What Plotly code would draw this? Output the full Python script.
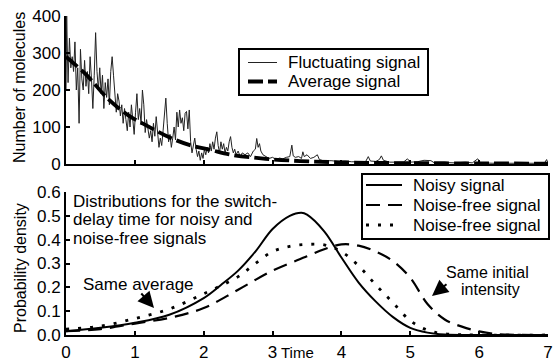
import plotly.graph_objects as go

# ---------------- data ----------------
# Top panel: fluctuating molecule count
fluct_t = [0.00,0.01,0.02,0.03,0.05,0.07,0.09,0.11,0.13,0.15,0.17,0.19,0.21,0.23,0.25,0.27,0.29,0.31,0.33,0.35,
           0.37,0.39,0.41,0.43,0.45,0.47,0.49,0.51,0.53,0.55,0.57,0.59,0.61,0.63,0.65,0.67,0.69,0.71,0.73,0.75,
           0.77,0.79,0.81,0.83,0.85,0.87,0.89,0.91,0.93,0.95,0.97,0.99,1.01,1.03,1.05,1.07,1.09,1.11,1.13,1.15,
           1.17,1.19,1.21,1.23,1.25,1.27,1.29,1.31,1.33,1.35,1.37,1.39,1.41,1.43,1.45,1.47,1.49,1.51,1.53,1.55,
           1.57,1.59,1.61,1.63,1.65,1.67,1.69,1.71,1.73,1.75,1.77,1.79,1.81,1.83,1.85,1.87,1.89,1.91,1.93,1.95,
           1.97,1.99,2.01,2.03,2.05,2.07,2.09,2.11,2.13,2.15,2.17,2.19,2.21,2.23,2.25,2.27,2.29,2.31,2.33,2.35,
           2.37,2.39,2.41,2.43,2.45,2.47,2.50,2.53,2.56,2.60,2.64,2.68,2.72,2.75,2.77,2.79,2.81,2.83,2.86,2.90,
           2.95,3.00,3.05,3.10,3.15,3.20,3.25,3.28,3.30,3.33,3.38,3.42,3.44,3.46,3.50,3.55,3.60,3.65,3.68,3.75,
           3.85,3.95,4.05,4.15,4.25,4.35,4.39,4.42,4.50,4.55,4.58,4.61,4.70,4.80,4.90,4.96,5.00,5.10,5.20,5.30,
           5.35,5.50,5.65,5.80,5.90,5.98,6.02,6.20,6.40,6.60,6.80,6.95,6.98,7.00]
fluct_v = [200,400,300,220,340,260,290,250,330,200,260,110,310,230,200,280,210,250,190,290,
           230,150,240,355,250,200,260,190,240,150,220,180,230,160,250,290,240,200,140,190,
           170,130,160,110,150,120,90,140,100,160,120,80,140,190,120,150,110,200,160,85,
           120,95,70,90,60,110,75,128,80,45,70,50,90,145,178,110,60,80,45,70,
           100,65,140,100,146,110,125,90,137,142,95,146,60,30,50,70,40,20,35,10,
           30,15,40,25,45,30,55,35,60,40,70,87,50,30,60,40,55,30,45,35,
           60,74,45,30,40,25,35,20,30,25,30,20,35,40,69,45,55,35,25,20,
           15,18,12,16,14,18,20,51,22,18,20,15,33,20,25,15,18,25,12,8,
           9,7,8,6,7,6,20,8,7,12,22,10,5,4,5,14,5,6,10,9,
           3,4,3,5,3,14,3,2,3,2,2,3,12,2]

# Top panel: average signal
avg_t = [0.0,0.3,0.6,0.9,1.2,1.5,1.8,2.1,2.4,2.9,3.4,3.9,4.5,5.5,7.0]
avg_v = [290,240,178,132,101,72,51,38,25,14,8,5,3,2,1]

# Bottom panel: probability densities
noisy_t = [0,0.5,1,1.5,2,2.25,2.5,2.75,3,3.25,3.42,3.5,3.75,4,4.25,4.5,4.75,5,5.25,5.5,6,7]
noisy_v = [0.016,0.03,0.051,0.085,0.155,0.21,0.27,0.35,0.445,0.50,0.513,0.505,0.435,0.325,0.22,0.14,0.075,0.03,0.01,0.002,0,0]

free_t = [0,0.5,1,1.5,2,2.5,3,3.5,3.75,4,4.25,4.5,4.75,5,5.25,5.5,5.75,6,6.25,7]
free_v = [0.016,0.025,0.048,0.072,0.113,0.19,0.27,0.33,0.36,0.38,0.375,0.35,0.31,0.24,0.13,0.065,0.035,0.015,0.004,0]

free2_t = [0,0.5,1,1.5,2,2.5,2.75,3,3.25,3.5,3.75,4,4.25,4.5,4.75,5,5.25,5.5,6,7]
free2_v = [0.025,0.037,0.069,0.109,0.173,0.245,0.30,0.35,0.372,0.38,0.378,0.35,0.29,0.21,0.135,0.06,0.02,0.005,0,0]

x_ticks = [0, 1, 2, 3, 4, 5, 6, 7]
top_ticks = [0, 100, 200, 300, 400]
bot_ticks = [0.0, 0.1, 0.2, 0.3, 0.4, 0.5, 0.6]

top_names = ["Fluctuating signal", "Average signal"]
bot_names = ["Noisy signal", "Noise-free signal", "Noise-free signal"]

FONT = "Liberation Sans, Arial, sans-serif"

# line styles
S_FLUCT = dict(color="#222", width=1)
S_AVG = dict(color="black", width=3.8, dash="15px,5px")
S_NOISY = dict(color="black", width=2)
S_FREE = dict(color="black", width=2.2, dash="14px,8px")
S_FREE2 = dict(color="black", width=2.8, dash="3px,9px")

fig = go.Figure()
fig.add_trace(go.Scatter(x=fluct_t, y=fluct_v, mode="lines", name=top_names[0], line=S_FLUCT, xaxis="x", yaxis="y"))
fig.add_trace(go.Scatter(x=avg_t, y=avg_v, mode="lines", name=top_names[1], line_shape="spline", line=S_AVG,
                         xaxis="x", yaxis="y"))
fig.add_trace(go.Scatter(x=noisy_t, y=noisy_v, mode="lines", name=bot_names[0], line_shape="spline", line=S_NOISY,
                         xaxis="x2", yaxis="y2"))
fig.add_trace(go.Scatter(x=free_t, y=free_v, mode="lines", name=bot_names[1], line_shape="spline", line=S_FREE,
                         xaxis="x2", yaxis="y2"))
fig.add_trace(go.Scatter(x=free2_t, y=free2_v, mode="lines", name=bot_names[2], line_shape="spline", line=S_FREE2,
                         xaxis="x2", yaxis="y2"))

axis_common = dict(showline=True, linewidth=2, linecolor="black", ticks="inside", ticklen=4,
                   tickwidth=1.5, tickcolor="black", showgrid=False, zeroline=False, automargin=False,
                   tickfont=dict(family=FONT, size=17, color="black"))

L, R, T, B, W, H = 66, 9, 16, 28, 557, 363
PW, PH = W - L - R, H - T - B


def px(xp):
    return (xp - L) / PW


def py(yp):
    return (H - B - yp) / PH


fig.update_layout(
    width=W, height=H,
    margin=dict(l=L, r=R, t=T, b=B),
    paper_bgcolor="white", plot_bgcolor="white",
    font=dict(family=FONT, size=17, color="black"),
    xaxis=dict(domain=[0, 1], anchor="y", range=[0, 7], tickvals=x_ticks, showticklabels=False, **axis_common),
    yaxis=dict(domain=[py(164), 1], anchor="x", range=[0, 400], tickvals=top_ticks, ticklabelstandoff=0, **axis_common),
    xaxis2=dict(domain=[0, 1], anchor="y2", range=[0, 7], tickvals=x_ticks, ticklabelstandoff=1, **axis_common),
    yaxis2=dict(domain=[0, py(192)], anchor="x2", range=[0, 0.6], tickvals=bot_ticks, tickformat=".1f",
                ticklabelstandoff=0, **axis_common),
    showlegend=False,
)

shapes = []
ann = []


def legend_box(x0, x1, y0, y1, rows, names, styles, sx0, sx1, tx):
    shapes.append(dict(type="rect", xref="paper", yref="paper", x0=px(x0), x1=px(x1), y0=py(y1), y1=py(y0),
                       line=dict(color="black", width=2), fillcolor="white", layer="above"))
    for ry, nm, st in zip(rows, names, styles):
        shapes.append(dict(type="line", xref="paper", yref="paper", x0=px(sx0), x1=px(sx1), y0=py(ry), y1=py(ry),
                           line=st, layer="above"))
        ann.append(dict(text=nm, xref="paper", yref="paper", x=px(tx), y=py(ry), xanchor="left", yanchor="middle",
                        showarrow=False, font=dict(size=17)))


legend_box(239, 428, 49, 95, [62.5, 81.5], top_names, [S_FLUCT, S_AVG], 248, 277, 286)
legend_box(362, 549, 174, 239, [185, 205, 225], bot_names, [S_NOISY, S_FREE, S_FREE2], 366, 402, 411)

# y-axis titles
ann.append(dict(text="Number of molecules", xref="paper", yref="paper", x=px(20), y=py(88),
                xanchor="center", yanchor="middle", textangle=-90, showarrow=False, font=dict(size=16)))
ann.append(dict(text="Probability density", xref="paper", yref="paper", x=px(20), y=py(268),
                xanchor="center", yanchor="middle", textangle=-90, showarrow=False, font=dict(size=16)))
# x title
ann.append(dict(text="Time", xref="paper", yref="paper", x=px(297), y=py(352), xanchor="center", yanchor="middle",
                showarrow=False, font=dict(size=15)))
# description lines
desc = ["Distributions for the switch-", "delay time for noisy and", "noise-free signals"]
for i, line in enumerate(desc):
    ann.append(dict(text=line, xref="paper", yref="paper", x=px(71), y=py(201 + i * 18.5),
                    xanchor="left", yanchor="middle", showarrow=False, font=dict(size=17)))
# Same average
ann.append(dict(text="Same average", xref="paper", yref="paper", x=px(138), y=py(284), xanchor="center",
                yanchor="middle", showarrow=False, font=dict(size=17)))
ann.append(dict(text="", xref="paper", yref="paper", x=px(154), y=py(308), ax=-14, ay=-16, axref="pixel",
                ayref="pixel", showarrow=True, arrowhead=2, arrowsize=1.6, arrowwidth=2, arrowcolor="black"))
# Same initial intensity
ann.append(dict(text="Same initial", xref="paper", yref="paper", x=px(487), y=py(272), xanchor="center",
                yanchor="middle", showarrow=False, font=dict(size=16)))
ann.append(dict(text="intensity", xref="paper", yref="paper", x=px(490), y=py(289), xanchor="center",
                yanchor="middle", showarrow=False, font=dict(size=16)))
ann.append(dict(text="", xref="paper", yref="paper", x=px(432), y=py(296), ax=16, ay=-13, axref="pixel",
                ayref="pixel", showarrow=True, arrowhead=2, arrowsize=1.6, arrowwidth=2, arrowcolor="black"))

fig.update_layout(annotations=ann, shapes=shapes)

fig.write_html("out.html")
